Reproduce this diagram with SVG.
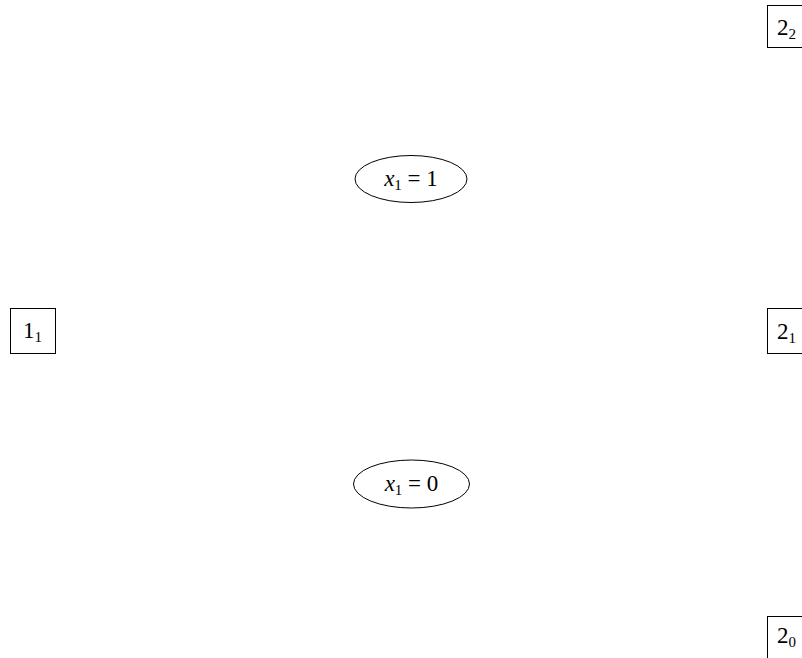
<svg xmlns="http://www.w3.org/2000/svg" width="802" height="658" viewBox="0 0 802 658">
<style>
.box{fill:#fff;stroke:#000;stroke-width:1}
.ell{fill:#fff;stroke:#000;stroke-width:1}
text{font-family:"Liberation Serif","Times New Roman",serif;font-size:23px;fill:#000}
.sub{font-size:15px}
.it{font-style:italic}
</style>
<rect width="802" height="658" fill="#fff"/>
<g id="connectors"></g>
<g id="n22"><rect class="box" x="767.5" y="5.5" width="45" height="42"/><text x="777" y="35">2<tspan class="sub" dy="4">2</tspan></text></g>
<g id="n11"><rect class="box" x="10.5" y="308.5" width="45" height="45"/><text x="23" y="338">1<tspan class="sub" dy="4">1</tspan></text></g>
<g id="n21"><rect class="box" x="767.5" y="308.5" width="45" height="45"/><text x="777" y="339">2<tspan class="sub" dy="4">1</tspan></text></g>
<g id="n20"><rect class="box" x="767.5" y="616.5" width="45" height="42"/><text x="777" y="643">2<tspan class="sub" dy="4">0</tspan></text></g>
<g id="e1"><ellipse class="ell" cx="411" cy="179" rx="56" ry="23.5"/><text x="411" y="186" text-anchor="middle"><tspan class="it">x</tspan><tspan class="sub" dy="4">1</tspan><tspan dy="-4"> = 1</tspan></text></g>
<g id="e0"><ellipse class="ell" cx="411.5" cy="484" rx="58" ry="24"/><text x="411.5" y="491" text-anchor="middle"><tspan class="it">x</tspan><tspan class="sub" dy="4">1</tspan><tspan dy="-4"> = 0</tspan></text></g>
</svg>
